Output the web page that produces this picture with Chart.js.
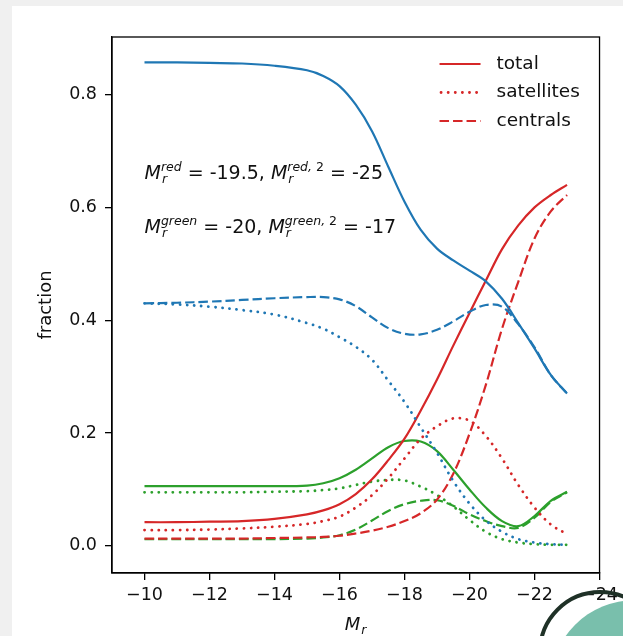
<!DOCTYPE html>
<html>
<head>
<meta charset="utf-8">
<script src="https://cdn.jsdelivr.net/npm/chart.js@4.4.1/dist/chart.umd.min.js"></script>
<style>
  body { margin: 0; background: #fff; }
  #wrap { position: relative; width: 623px; height: 636px; overflow: hidden; background: #fff; }
  .strip { position: absolute; background: #f0f0f0; }
  #chart { position: absolute; left: 0; top: 0; }
  #ring { position: absolute; left: 538px; top: 590px; width: 124px; height: 124px; border: 4px solid #1f3127; border-radius: 50%; box-sizing: border-box; }
  #dot { position: absolute; left: 550px; top: 600px; width: 170px; height: 170px; background: #79bfac; border-radius: 50%; }
</style>
</head>
<body>
<div id="wrap">
  <div class="strip" style="left:0;top:0;width:623px;height:6px"></div>
  <div class="strip" style="left:0;top:0;width:12px;height:636px"></div>
  <canvas id="chart" width="623" height="636"></canvas>
  <div id="dot"></div>
  <div id="ring"></div>
</div>
<script>
// absolute magnitude grid
const Mr = [-10, -11, -12, -13, -14, -15, -15.5, -16, -16.5, -17, -17.5, -18, -18.5, -19, -19.5, -20, -20.5, -21, -21.5, -22, -22.5, -23]

// blue
const blueTotal = [0.857, 0.857, 0.856, 0.855, 0.851, 0.843, 0.833, 0.815, 0.782, 0.735, 0.672, 0.61, 0.56, 0.527, 0.506, 0.488, 0.469, 0.438, 0.395, 0.35, 0.303, 0.27]
const blueSat = [0.430, 0.428, 0.424, 0.418, 0.41, 0.395, 0.385, 0.37, 0.353, 0.33, 0.293, 0.255, 0.21, 0.165, 0.115, 0.075, 0.045, 0.025, 0.012, 0.006, 0.003, 0.002]
const blueCen = [0.430, 0.431, 0.433, 0.436, 0.439, 0.441, 0.441, 0.437, 0.425, 0.405, 0.386, 0.376, 0.375, 0.383, 0.398, 0.415, 0.427, 0.424, 0.393, 0.352, 0.303, 0.27]

// red
const redTotal = [0.042, 0.042, 0.043, 0.044, 0.048, 0.056, 0.063, 0.074, 0.092, 0.118, 0.152, 0.19, 0.24, 0.295, 0.355, 0.413, 0.47, 0.526, 0.568, 0.6, 0.622, 0.64]
const redSat = [0.028, 0.028, 0.029, 0.031, 0.034, 0.039, 0.044, 0.052, 0.068, 0.09, 0.12, 0.155, 0.19, 0.212, 0.226, 0.222, 0.195, 0.155, 0.108, 0.068, 0.038, 0.021]
const redCen = [0.013, 0.013, 0.013, 0.013, 0.014, 0.015, 0.016, 0.018, 0.022, 0.027, 0.034, 0.044, 0.058, 0.082, 0.128, 0.199, 0.285, 0.385, 0.468, 0.545, 0.593, 0.622]

// green
const greenTotal = [0.106, 0.106, 0.106, 0.106, 0.106, 0.107, 0.111, 0.12, 0.135, 0.155, 0.175, 0.186, 0.185, 0.168, 0.135, 0.1, 0.068, 0.044, 0.035, 0.053, 0.08, 0.096]
const greenSat = [0.095, 0.095, 0.095, 0.095, 0.096, 0.097, 0.099, 0.102, 0.108, 0.114, 0.117, 0.116, 0.105, 0.09, 0.07, 0.046, 0.025, 0.012, 0.006, 0.003, 0.002, 0.002]
const greenCen = [0.012, 0.012, 0.012, 0.012, 0.012, 0.013, 0.015, 0.019, 0.029, 0.045, 0.062, 0.074, 0.08, 0.081, 0.071, 0.056, 0.044, 0.035, 0.032, 0.05, 0.078, 0.095]

const xTicks = [-10, -12, -14, -16, -18, -20, -22, -24]
const legendLabels = ['total', 'satellites', 'centrals']

const BLUE = '#1f77b4', RED = '#d62728', GREEN = '#2ca02c'
const SOLID = [], DOTTED = [0.1, 7], DASHED = [9.5, 4]
const FONT = 'DejaVu Sans'

function series(vals, color, dash) {
    return {
        data: Mr.map((x, i) => ({x: x, y: vals[i]})),
        borderColor: color,
        borderDash: dash,
        borderCapStyle: dash === DOTTED ? 'round' : 'butt',
        borderWidth: dash === DOTTED ? 2.8 : 2.2,
        pointRadius: 0,
        fill: false,
        tension: 0.35
    }
}

// draws M_r^{...} style text pieces
function mathLine(ctx, x, y, parts) {
    ctx.textBaseline = 'alphabetic'
    ctx.textAlign = 'left'
    for (const p of parts) {
        if (p.sup) {
            ctx.font = 'italic 12.5px "' + FONT + '"'
            ctx.fillText('r', x + 1, y + 4)
            const wSub = ctx.measureText('r').width + 1
            let xs = x
            for (const [t, it] of p.sup) {
                ctx.font = (it ? 'italic ' : '') + '12.5px "' + FONT + '"'
                ctx.fillText(t, xs, y - 8)
                xs += ctx.measureText(t).width
            }
            x = Math.max(x + wSub, xs)
        } else {
            ctx.font = (p.it ? 'italic ' : '') + '19px "' + FONT + '"'
            ctx.fillText(p.t, x, y)
            x += ctx.measureText(p.t).width
        }
    }
}

const decor = {
    id: 'decor',
    afterDraw(chart) {
        const {ctx, chartArea: a, scales} = chart
        ctx.save()
        // box
        ctx.strokeStyle = '#000'
        ctx.lineWidth = 1.3
        ctx.strokeRect(a.left, a.top, a.right - a.left, a.bottom - a.top)

        // legend
        const dashes = [SOLID, DOTTED, DASHED]
        legendLabels.forEach((lab, i) => {
            const y = a.top + 27 + i * 28.5
            ctx.beginPath()
            ctx.setLineDash(dashes[i])
            ctx.lineCap = i === 1 ? 'round' : 'butt'
            ctx.strokeStyle = RED
            ctx.lineWidth = i === 1 ? 2.8 : 2.2
            ctx.moveTo(a.right - 160 + (i === 1 ? 1.5 : 0), y)
            ctx.lineTo(a.right - 119, y)
            ctx.stroke()
            ctx.setLineDash([])
            ctx.fillStyle = '#111'
            ctx.font = '18.5px "' + FONT + '"'
            ctx.textBaseline = 'middle'
            ctx.fillText(lab, a.right - 103, y)
        })

        // annotations
        ctx.fillStyle = '#111'
        const x0 = scales.x.getPixelForValue(-10)
        mathLine(ctx, x0, scales.y.getPixelForValue(0.65), [
            {t: 'M', it: true}, {sup: [['red', true]]}, {t: ' = -19.5, '},
            {t: 'M', it: true}, {sup: [['red,', true], [' 2', false]]}, {t: ' = -25'}
        ])
        mathLine(ctx, x0, scales.y.getPixelForValue(0.554), [
            {t: 'M', it: true}, {sup: [['green', true]]}, {t: ' = -20, '},
            {t: 'M', it: true}, {sup: [['green,', true], [' 2', false]]}, {t: ' = -17'}
        ])

        // x axis label M_r
        const cx = (a.left + a.right) / 2
        ctx.font = 'italic 18px "' + FONT + '"'
        ctx.textBaseline = 'alphabetic'
        const wM = ctx.measureText('M').width
        ctx.fillText('M', cx - 11, 630)
        ctx.font = 'italic 12.5px "' + FONT + '"'
        ctx.fillText('r', cx - 11 + wM + 1, 634)
        ctx.restore()
    }
}

const ctx = document.getElementById('chart').getContext('2d')

const chart = new Chart(ctx, {
    type: 'line',
    data: {
        datasets: [
            series(blueTotal, BLUE, SOLID),
            series(blueSat, BLUE, DOTTED),
            series(blueCen, BLUE, DASHED),
            series(redTotal, RED, SOLID),
            series(redSat, RED, DOTTED),
            series(redCen, RED, DASHED),
            series(greenTotal, GREEN, SOLID),
            series(greenSat, GREEN, DOTTED),
            series(greenCen, GREEN, DASHED)
        ]
    },
    options: {
        responsive: false,
        animation: false,
        devicePixelRatio: 1,
        layout: {padding: {top: 37, right: 22, left: 0, bottom: 0}},
        plugins: {legend: {display: false}, tooltip: {enabled: false}},
        scales: {
            x: {
                type: 'linear',
                reverse: true,
                min: -24,
                max: -9,
                afterFit: s => { s.height = 63 },
                afterBuildTicks: s => { s.ticks = xTicks.map(v => ({value: v})) },
                grid: {drawOnChartArea: false, drawTicks: true, tickLength: 7, color: '#000', lineWidth: 1.3},
                border: {display: true, color: '#000', width: 1.3},
                ticks: {
                    color: '#111',
                    padding: 5,
                    maxRotation: 0,
                    autoSkip: false,
                    font: {family: FONT, size: 17.5},
                    callback: v => (v < 0 ? '\u2212' : '') + Math.abs(v)
                },
                title: {display: false}
            },
            y: {
                min: -0.048,
                max: 0.902,
                afterFit: s => { s.width = 112 },
                grid: {drawOnChartArea: false, drawTicks: true, tickLength: 7, color: '#000', lineWidth: 1.3},
                border: {display: true, color: '#000', width: 1.3},
                ticks: {
                    stepSize: 0.2,
                    includeBounds: false,
                    color: '#111',
                    padding: 8,
                    font: {family: FONT, size: 17.5},
                    callback: v => v.toFixed(1)
                },
                title: {
                    display: true,
                    text: 'fraction',
                    color: '#111',
                    font: {family: FONT, size: 18},
                    padding: {top: 36, bottom: 0}
                }
            }
        }
    },
    plugins: [decor]
})
</script>
</body>
</html>
